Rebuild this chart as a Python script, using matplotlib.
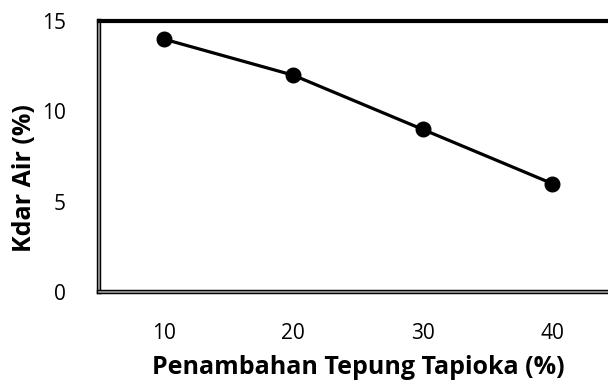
import matplotlib
matplotlib.use('Agg')
import matplotlib.pyplot as plt
import matplotlib.patheffects as pe

tepung = [10, 20, 30, 40]
kadar_air = [14, 12, 9, 6]
yticks = [0, 5, 10, 15]

plt.rcParams['font.family'] = ['Open Sans', 'DejaVu Sans']

fig = plt.figure(figsize=(6.08, 3.85), dpi=100)
ax = fig.add_axes([99 / 608, 1 - 292 / 385, 518 / 608, 271 / 385])

ax.plot(tepung, kadar_air, color='black', lw=2.3, marker='o', ms=10.5,
        markerfacecolor='black', markeredgecolor='black', clip_on=False)

ax.set_xlim(5, 45)
ax.set_ylim(0, 15)
ax.set_xticks(tepung)
ax.set_yticks(yticks)
ax.tick_params(length=0, labelsize=15)
ax.tick_params(axis='y', pad=24)
ax.tick_params(axis='x', pad=22)

for side in ['left', 'bottom']:
    ax.spines[side].set_color('#a0a0a0')
    ax.spines[side].set_linewidth(1.2)
    ax.spines[side].set_path_effects([pe.Stroke(linewidth=3.2, foreground='black'), pe.Normal()])
ax.spines['top'].set_linewidth(3)
ax.spines['top'].set_color('black')
ax.spines['right'].set_linewidth(3)

fig.text(358 / 608, 1 - 367 / 385, 'Penambahan Tepung Tapioka (%)', ha='center', va='center',
         fontsize=18, fontweight='bold')
fig.text(25 / 608, 1 - 178 / 385, 'Kdar Air (%)', ha='center', va='center', rotation=90,
         fontsize=18, fontweight='bold')

fig.savefig('out.png', dpi=100)
